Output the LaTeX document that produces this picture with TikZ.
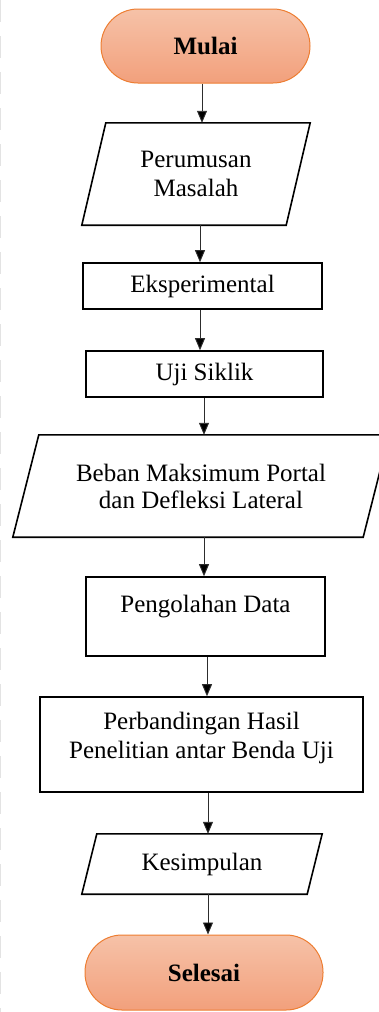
\documentclass[tikz,border=0pt]{standalone}
\usepackage{fontspec}
\setmainfont{Liberation Serif}
\usetikzlibrary{arrows.meta,calc}
\definecolor{termtop}{RGB}{246,194,168}
\definecolor{termbot}{RGB}{242,160,124}
\definecolor{termline}{RGB}{237,125,49}
\definecolor{arrcol}{RGB}{45,45,45}
\begin{document}
\begin{tikzpicture}[x=1pt,y=-1pt,
  txt/.style={font=\fontsize{25}{29}\selectfont, align=center, inner sep=0pt},
  term/.style={txt, font=\fontsize{25}{29}\selectfont\bfseries, draw=termline, line width=1pt,
    top color=termtop, bottom color=termbot, rounded corners=37pt},
  procbox/.style={draw=black, line width=1.6pt, line join=miter},
  frame/.style={txt, minimum width=#1},
  arr/.style={draw=arrcol, line width=0.9pt, -{Triangle[width=10pt,length=12pt,fill=black]}}]
\useasboundingbox (0,0) rectangle (378,1012);
\draw[gray!22, line width=1.2pt, dash pattern=on 22pt off 14pt] (0.6,0) -- (0.6,1012);

% terminals
\node[term, minimum width=209pt, minimum height=74pt] (mulai) at (205.5,46) {Mulai};
\node[term, minimum width=238pt, minimum height=75pt] (selesai) at (204,972.5) {Selesai};

% Perumusan Masalah (parallelogram)
\node[frame=228pt, minimum height=102pt] (pm) at (196,174) {Perumusan\\Masalah};
\draw[procbox] (pm.south west) -- ($(pm.north west)+(24,0)$) -- (pm.north east)
  -- ($(pm.south east)+(-24,0)$) -- cycle;

% Eksperimental, Uji Siklik
\node[txt, procbox, minimum width=239pt, minimum height=46pt] (eks) at (202.5,286) {Eksperimental};
\node[txt, procbox, minimum width=237pt, minimum height=46pt] (uji) at (204.5,374) {Uji Siklik};

% Beban (parallelogram)
\node[frame=376pt, minimum height=102pt, font=\fontsize{25}{27}\selectfont] (beban) at (201,486)
  {Beban Maksimum Portal\\dan Defleksi Lateral};
\draw[procbox] (beban.south west) -- ($(beban.north west)+(26,0)$) -- (beban.north east)
  -- ($(beban.south east)+(-26,0)$) -- cycle;

% Pengolahan Data
\node[procbox, minimum width=239pt, minimum height=79pt, inner sep=0pt] (pd) at (205.5,616.5) {};
\node[txt] (pdt) at (205.5,607) {Pengolahan Data};

% Perbandingan
\node[procbox, minimum width=323pt, minimum height=95pt, inner sep=0pt] (pb) at (201.5,744.5) {};
\node[txt] (pbt) at (201.5,738) {Perbandingan Hasil\\Penelitian antar Benda Uji};

% Kesimpulan (parallelogram)
\node[frame=240pt, minimum height=60pt] (ks) at (202,864) {Kesimpulan};
\draw[procbox] (ks.south west) -- ($(ks.north west)+(15,0)$) -- (ks.north east)
  -- ($(ks.south east)+(-15,0)$) -- cycle;

% connector columns
\coordinate (c1) at (202,0);
\coordinate (c2) at (200,0);
\coordinate (c3) at (200,0);
\coordinate (c4) at (204,0);
\coordinate (c5) at (204,0);
\coordinate (c6) at (207,0);
\coordinate (c7) at (208,0);
\coordinate (c8) at (208,0);

\draw[arr] (c1 |- mulai.south) -- (c1 |- pm.north);
\draw[arr] (c2 |- pm.south) -- (c2 |- eks.north);
\draw[arr] (c3 |- eks.south) -- (c3 |- uji.north);
\draw[arr] (c4 |- uji.south) -- (c4 |- beban.north);
\draw[arr] (c5 |- beban.south) -- (c5 |- pd.north);
\draw[arr] (c6 |- pd.south) -- (c6 |- pb.north);
\draw[arr] (c7 |- pb.south) -- (c7 |- ks.north);
\draw[arr] (c8 |- ks.south) -- (c8 |- selesai.north);
\end{tikzpicture}
\end{document}
